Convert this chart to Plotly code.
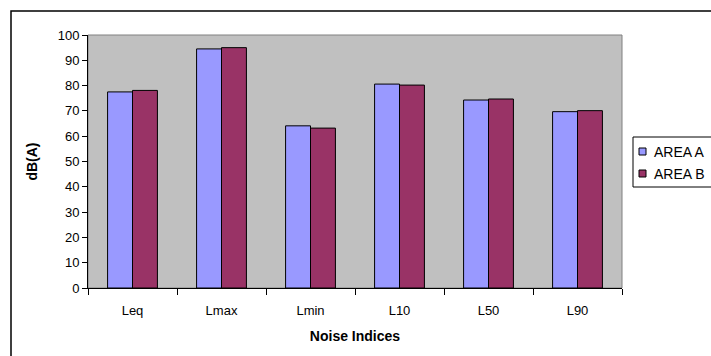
import plotly.graph_objects as go

categories = ["Leq", "Lmax", "Lmin", "L10", "L50", "L90"]
area_a = [77.5, 94.5, 64.1, 80.6, 74.3, 69.7]
area_b = [78.1, 95.0, 63.2, 80.2, 74.7, 70.1]
y_ticks = list(range(0, 101, 10))

series_names = ["AREA A", "AREA B"]
series_colors = ["#9999FF", "#993366"]

W, H = 711, 356
L, R, T, B = 88, 89, 35, 68
pw, ph = W - L - R, H - T - B


def px_x(p):
    return (p - L) / pw


def px_y(p):
    return (H - B - p) / ph


font = "Liberation Sans, Arial, sans-serif"

fig = go.Figure()
for name, vals, col in zip(series_names, [area_a, area_b], series_colors):
    fig.add_trace(go.Bar(name=name, x=categories, y=vals, showlegend=False,
                         marker=dict(color=col, line=dict(color="#000000", width=1))))

shapes = [
    # grey outline around the plot area
    dict(type="rect", xref="paper", yref="paper", x0=0, y0=0, x1=1, y1=1,
         line=dict(color="#808080", width=1), layer="below"),
    # outer chart border
    dict(type="rect", xref="paper", yref="paper",
         x0=px_x(11), y0=px_y(365), x1=px_x(725), y1=px_y(11),
         line=dict(color="#000000", width=1.5)),
    # legend box
    dict(type="rect", xref="paper", yref="paper",
         x0=px_x(633), y0=px_y(187), x1=px_x(720), y1=px_y(137),
         line=dict(color="#000000", width=1), fillcolor="white"),
]
annotations = []
for i, (name, col) in enumerate(zip(series_names, series_colors)):
    cy = 151.5 + i * 22
    shapes.append(dict(type="rect", xref="paper", yref="paper",
                       x0=px_x(639), x1=px_x(646), y0=px_y(cy + 3.5), y1=px_y(cy - 3.5),
                       line=dict(color="#000000", width=1), fillcolor=col))
    annotations.append(dict(xref="paper", yref="paper", x=px_x(652), y=px_y(cy),
                            xanchor="left", yanchor="middle", showarrow=False,
                            text=name, font=dict(size=14)))

fig.update_layout(
    width=W, height=H,
    margin=dict(l=L, r=R, t=T, b=B, autoexpand=False),
    paper_bgcolor="white",
    plot_bgcolor="#C0C0C0",
    barmode="group",
    bargap=0.44,
    bargroupgap=0,
    showlegend=False,
    font=dict(family=font, size=13, color="#000000"),
    xaxis=dict(
        tickson="boundaries", ticks="outside", ticklen=6, tickcolor="#000000",
        showline=True, linecolor="#000000", linewidth=1,
        showgrid=False, ticklabelstandoff=10,
        title=dict(text="<b>Noise Indices</b>", font=dict(size=14), standoff=14),
    ),
    yaxis=dict(
        range=[0, 100], tickvals=y_ticks, ticks="outside", ticklen=5,
        tickcolor="#000000", showline=True, linecolor="#000000", linewidth=1,
        showgrid=False, zeroline=False,
        title=dict(text="<b>dB(A)</b>", font=dict(size=14), standoff=16),
    ),
    shapes=shapes,
    annotations=annotations,
)

fig.write_html("out.html")
